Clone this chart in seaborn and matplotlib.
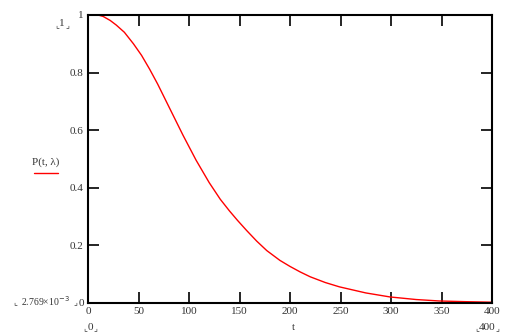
import matplotlib
matplotlib.use("Agg")
import matplotlib.pyplot as plt
import seaborn as sns
import pandas as pd

# Values
t_values = [0, 10, 15, 22, 28, 36, 45, 53, 61, 69, 81, 94, 107, 120, 131, 140,
            148, 157, 167, 177, 190, 200, 210, 220, 235, 249, 275, 299, 325, 348,
            375, 400]
p_values = [1.0, 1.0, 0.995, 0.981, 0.965, 0.940, 0.900, 0.860, 0.812, 0.760,
            0.675, 0.583, 0.496, 0.418, 0.360, 0.320, 0.287, 0.252, 0.215, 0.182,
            0.148, 0.127, 0.108, 0.091, 0.071, 0.056, 0.035, 0.021, 0.012, 0.007,
            0.0045, 0.0028]
x_ticks = [0, 50, 100, 150, 200, 250, 300, 350, 400]
y_ticks = [0, 0.2, 0.4, 0.6, 0.8, 1]
y_tick_labels = ["0", "0.2", "0.4", "0.6", "0.8", "1"]

df = pd.DataFrame({"t": t_values, "P": p_values})

sns.set_style("white")
plt.rcParams["font.family"] = ["Liberation Serif", "DejaVu Sans"]

W, H = 518, 335
fig = plt.figure(figsize=(W / 100, H / 100), dpi=100)
ax = fig.add_axes([88 / W, 1 - 303 / H, (492 - 88) / W, (303 - 15) / H])

sns.lineplot(data=df, x="t", y="P", ax=ax, color="red", linewidth=1.0)

ax.set_xlim(0, 400)
ax.set_ylim(0, 1)
ax.set_xticks(x_ticks)
ax.set_xticklabels([str(v) for v in x_ticks])
ax.set_yticks(y_ticks)
ax.set_yticklabels(y_tick_labels)
ax.tick_params(direction="in", length=8, width=1.2, top=True, right=True,
               bottom=True, left=True, labelsize=8, colors="black",
               labelcolor="#333333", pad=3)
ax.set_xlabel("")
ax.set_ylabel("")
for s in ax.spines.values():
    s.set_visible(True)
    s.set_color("black")
    s.set_linewidth(1.5)

txt = dict(color="#333333", ha="center", va="center")
br = dict(family=["DejaVu Sans"], fontsize=6, color="#333333", va="center")


def bracketed(xc, yc, label, halfw, fs=8):
    fig.text(xc / W, 1 - yc / H, label, fontsize=fs, **txt)
    fig.text((xc - halfw) / W, 1 - (yc + 1) / H, "⌞", ha="right", **br)
    fig.text((xc + halfw) / W, 1 - (yc + 1) / H, "⌟", ha="left", **br)


bracketed(62, 24, "1", 3)
bracketed(45, 301, "2.769×10$^{-3}$", 28, fs=7)
bracketed(90, 327, "0", 3)
bracketed(487, 327, "400", 8)
fig.text(293 / W, 1 - 328 / H, "t", fontsize=8, **txt)
fig.text(46 / W, 1 - 162 / H, "P(t, λ)", fontsize=8, **txt)
fig.add_artist(plt.Line2D([34 / W, 58 / W], [1 - 173 / H, 1 - 173 / H],
                          color="red", linewidth=1.0))

fig.savefig("out.png", dpi=100)
